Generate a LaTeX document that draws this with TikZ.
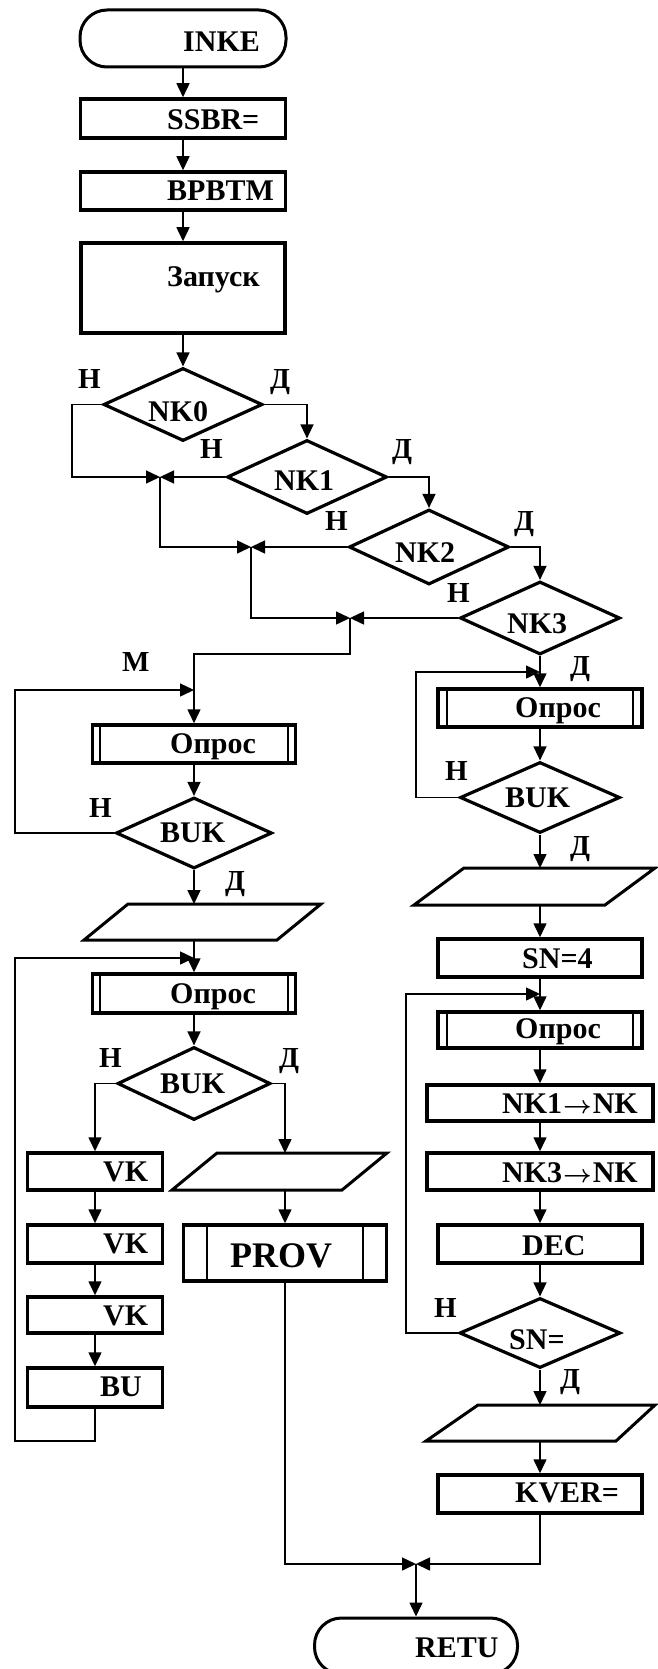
\documentclass[tikz,border=0pt]{standalone}
\usepackage{fontspec}
\setmainfont{Liberation Serif}
\usetikzlibrary{arrows.meta,shapes.geometric}
\tikzset{
  box/.style={draw, line width=3.5pt, rectangle, inner sep=0pt},
  dia/.style={draw, line width=3.2pt, diamond, inner sep=0pt},
  term/.style={draw, line width=3pt, rectangle, rounded corners=27pt, inner sep=0pt},
  conn/.style={line width=1.5pt},
  arr/.style={conn, -{Triangle[length=14pt,width=13pt]}},
  txt/.style={inner sep=0pt, anchor=base west, font=\bfseries\fontsize{30}{30}\selectfont},
  bigtxt/.style={inner sep=0pt, anchor=base west, font=\bfseries\fontsize{36}{36}\selectfont},
  lab/.style={inner sep=0pt, anchor=base west, font=\bfseries\fontsize{29}{29}\selectfont},
  para/.style={draw, line width=3pt, line join=miter},
  innerline/.style={line width=2pt},
}
\newcommand{\myarrow}{\kern1pt{\boldmath$\rightarrow$}\kern1pt}
\begin{document}
\begin{tikzpicture}[x=1pt,y=-1pt]
\fill[white] (0,0) rectangle (657,1669);
\useasboundingbox (0,0) rectangle (657,1669);

% ---------- top chain ----------
\node[term, minimum width=206pt, minimum height=57pt] (inke) at (183,38.5) {};
\node[box, minimum width=205pt, minimum height=39pt] (ssbr) at (183,118.5) {};
\node[box, minimum width=205pt, minimum height=38pt] (bpbtm) at (183,191) {};
\node[box, minimum width=204pt, minimum height=90pt] (zap) at (183,288) {};
\node[dia, minimum width=159pt, minimum height=73pt] (nk0) at (183,404.5) {};
\node[dia, minimum width=160pt, minimum height=74pt] (nk1) at (307,477) {};
\node[dia, minimum width=160pt, minimum height=75pt] (nk2) at (429,547) {};
\node[dia, minimum width=160pt, minimum height=73pt] (nk3) at (540,618) {};

\coordinate (j1) at (160,477);
\coordinate (j2) at (251,547);
\coordinate (j3) at (350,618);

% ---------- left column ----------
\node[box, minimum width=203pt, minimum height=38pt] (op1) at (194,744) {};
\node[dia, minimum width=156pt, minimum height=71pt] (buk1) at (194,833) {};
\draw[para] (128,904) -- (321,904) -- (277,940) -- (84,940) -- cycle;
\coordinate (p1t) at (194,904);
\coordinate (p1b) at (194,940);
\node[box, minimum width=203pt, minimum height=39pt] (op2) at (194,993.5) {};
\node[dia, minimum width=153pt, minimum height=73pt] (buk2) at (194,1083.5) {};
\node[box, minimum width=135pt, minimum height=37pt] (vk1) at (95,1171.5) {};
\node[box, minimum width=135pt, minimum height=38pt] (vk2) at (95,1244) {};
\node[box, minimum width=135pt, minimum height=36pt] (vk3) at (95,1315) {};
\node[box, minimum width=135pt, minimum height=39pt] (bu) at (95,1387.5) {};
\draw[para] (217,1153) -- (387,1153) -- (342,1190) -- (172,1190) -- cycle;
\coordinate (p2t) at (285,1153);
\coordinate (p2b) at (285,1190);
\node[box, minimum width=203pt, minimum height=56pt] (prov) at (285,1253) {};
\coordinate (m1) at (194,690);
\coordinate (m2) at (194,958);

% ---------- right column ----------
\node[box, minimum width=204pt, minimum height=38pt] (opr1) at (540,708) {};
\node[dia, minimum width=160pt, minimum height=71pt] (bukr) at (540,797.5) {};
\draw[para] (464,868) -- (655,868) -- (605,905) -- (414,905) -- cycle;
\coordinate (pr1t) at (540,868);
\coordinate (pr1b) at (540,905);
\node[box, minimum width=204pt, minimum height=38pt] (sn4) at (540,958) {};
\node[box, minimum width=204pt, minimum height=36pt] (opr2) at (540,1030) {};
\node[box, minimum width=226pt, minimum height=36pt] (nk1nk) at (540,1103) {};
\node[box, minimum width=226pt, minimum height=37pt] (nk3nk) at (540,1171.5) {};
\node[box, minimum width=204pt, minimum height=38pt] (dec) at (540,1244) {};
\node[dia, minimum width=161pt, minimum height=70pt] (sneq) at (540,1333) {};
\draw[para] (478,1405) -- (655,1405) -- (616,1441) -- (426,1441) -- cycle;
\coordinate (pr3t) at (540,1405);
\coordinate (pr3b) at (540,1441);
\node[box, minimum width=204pt, minimum height=38pt] (kver) at (540,1494) {};
\coordinate (m3) at (540,672);
\coordinate (m4) at (540,994);

\coordinate (j4) at (416,1564);
\node[term, minimum width=203pt, minimum height=56pt] (retu) at (416,1646) {};

% ---------- inner lines of predefined-process boxes ----------
\foreach \n/\d in {op1/9pt, op2/9pt, opr1/11pt, opr2/11pt, prov/25pt}{
  \draw[innerline] ([xshift=\d]\n.north west) -- ([xshift=\d]\n.south west);
  \draw[innerline] ([xshift=-\d]\n.north east) -- ([xshift=-\d]\n.south east);
}

% ---------- texts ----------
\node[txt] (t1) at (183,52) {INKE};
\node[txt] (t2) at (167,130) {SSBR=};
\node[txt] (t3) at (167,201) {BPBTM};
\node[txt] (t4) at (167,287) {Запуск};
\node[txt] (t5) at (148,421) {NK0};
\node[txt] (t6) at (274,490) {NK1};
\node[txt] (t7) at (395,562) {NK2};
\node[txt] (t8) at (507,633) {NK3};
\node[txt] (t9) at (170,753) {Опрос};
\node[txt] (t10) at (160,842) {BUK};
\node[txt] (t11) at (170,1003) {Опрос};
\node[txt] (t12) at (160,1093) {BUK};
\node[txt] (t13) at (103,1181) {VK};
\node[txt] (t14) at (103,1253) {VK};
\node[txt] (t15) at (103,1325) {VK};
\node[txt] (t16) at (100,1396) {BU};
\node[bigtxt] (t17) at (230,1267) {PROV};
\node[txt] (t18) at (515,717) {Опрос};
\node[txt] (t19) at (505,807) {BUK};
\node[txt] (t20) at (522,968) {SN=4};
\node[txt] (t21) at (515,1038) {Опрос};
\node[txt] (t22) at (502,1113) {NK1\myarrow NK};
\node[txt] (t23) at (502,1182) {NK3\myarrow NK};
\node[txt] (t24) at (522,1255) {DEC};
\node[txt] (t25) at (509,1349) {SN=};
\node[txt] (t26) at (515,1502) {KVER=};
\node[txt] (t27) at (415,1657) {RETU};

% ---------- branch labels ----------
\node[lab] (l1) at (78,388) {Н};
\node[lab] (l2) at (270,388) {Д};
\node[lab] (l3) at (200,458) {Н};
\node[lab] (l4) at (392,458) {Д};
\node[lab] (l5) at (325,530) {Н};
\node[lab] (l6) at (514,530) {Д};
\node[lab] (l7) at (447,602) {Н};
\node[lab] (l8) at (570,675) {Д};
\node[lab] (l9) at (122,671) {М};
\node[lab] (l10) at (89,817) {Н};
\node[lab] (l11) at (225,890) {Д};
\node[lab] (l12) at (445,780) {Н};
\node[lab] (l13) at (570,855) {Д};
\node[lab] (l14) at (99,1067) {Н};
\node[lab] (l15) at (279,1067) {Д};
\node[lab] (l16) at (434,1317) {Н};
\node[lab] (l17) at (560,1388) {Д};

% ---------- connectors ----------
\draw[arr] (inke.south) -- (inke.south |- ssbr.north);
\draw[arr] (ssbr.south) -- (ssbr.south |- bpbtm.north);
\draw[arr] (bpbtm.south) -- (bpbtm.south |- zap.north);
\draw[arr] (zap.south) -- (nk0.north);

\draw[arr] (nk0.east) -| (nk1.north);
\draw[arr] (nk1.east) -| (nk2.north);
\draw[arr] (nk2.east) -| (nk3.north);
\draw[arr] (nk0.west) -| (72,477) -- (j1);
\draw[arr] (nk1.west) -- (j1);
\draw[arr] (j1) |- (j2);
\draw[arr] (nk2.west) -- (j2);
\draw[arr] (j2) |- (j3);
\draw[arr] (nk3.west) -- (j3);
\draw[arr] (j3) -- (350,654) -| (op1.north);

% left column
\draw[arr] (op1.south) -- (buk1.north);
\draw[arr] (buk1.west) -| (15,690) -- (m1);
\draw[arr] (buk1.south) -- (p1t);
\draw[arr] (p1b) -- (op2.north);
\draw[arr] (op2.south) -- (buk2.north);
\draw[arr] (buk2.west) -| (vk1.north);
\draw[arr] (buk2.east) -| (p2t);
\draw[arr] (vk1.south) -- (vk2.north);
\draw[arr] (vk2.south) -- (vk3.north);
\draw[arr] (vk3.south) -- (bu.north);
\draw[arr] (bu.south) |- (15,1441) -- (15,958) -- (m2);
\draw[arr] (p2b) -- (prov.north);
\draw[arr] (prov.south) |- (j4);

% right column
\draw[arr] (nk3.south) -- (opr1.north);
\draw[arr] (opr1.south) -- (bukr.north);
\draw[arr] (bukr.west) -| (416,672) -- (m3);
\draw[arr] (bukr.south) -- (pr1t);
\draw[arr] (pr1b) -- (sn4.north);
\draw[arr] (sn4.south) -- (opr2.north);
\draw[arr] (opr2.south) -- (nk1nk.north);
\draw[arr] (nk1nk.south) -- (nk3nk.north);
\draw[arr] (nk3nk.south) -- (dec.north);
\draw[arr] (dec.south) -- (sneq.north);
\draw[arr] (sneq.west) -| (406,994) -- (m4);
\draw[arr] (sneq.south) -- (pr3t);
\draw[arr] (pr3b) -- (kver.north);
\draw[arr] (kver.south) |- (j4);
\draw[arr] (j4) -- (retu.north);
\end{tikzpicture}
\end{document}
